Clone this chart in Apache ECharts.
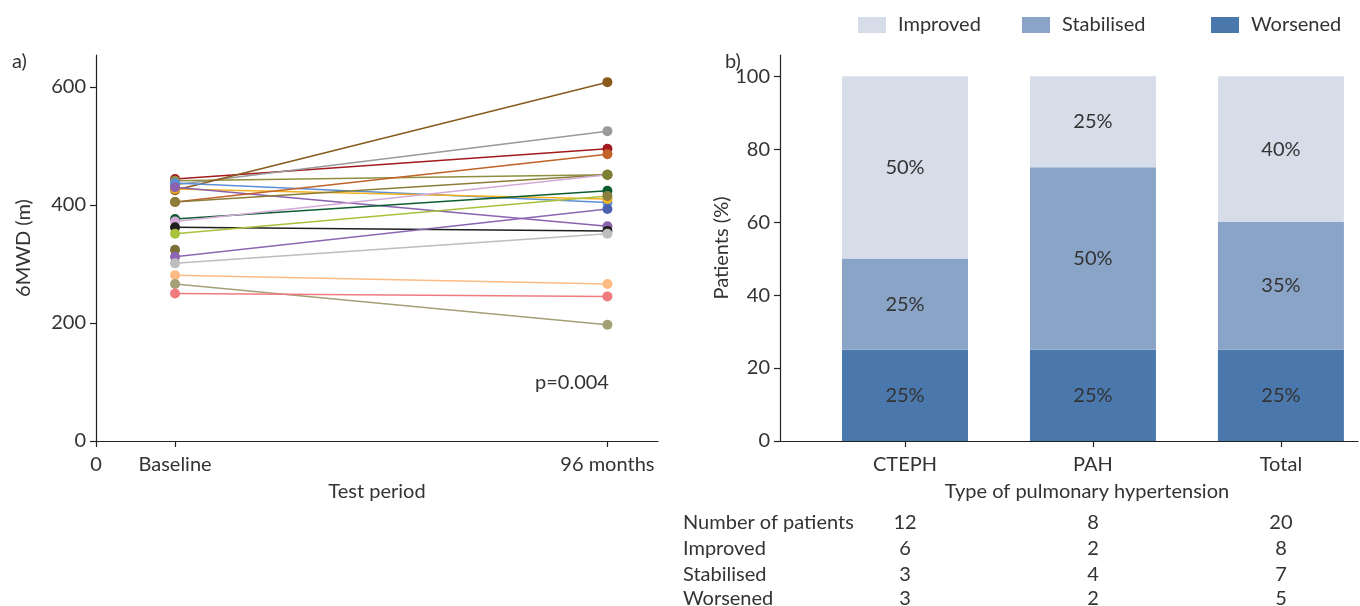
<!DOCTYPE html>
<html>
<head>
<meta charset="utf-8">
<script src="https://cdn.jsdelivr.net/npm/echarts@6/dist/echarts.min.js"></script>
<style>
  html, body { margin: 0; padding: 0; background: #ffffff; }
  #chart { width: 1360px; height: 606px; }
</style>
</head>
<body>
<div id="chart"></div>
<script>
// ---- Panel a: 6MWD per patient, baseline vs 96 months ----
const periodPositions = [0, 1, 6.47];
const periodLabels = ['0', 'Baseline', '96 months'];
const walkTicks = [0, 200, 400, 600];

const baseline6MWD = [444, 434, 441, 425, 437, 427, 430, 405, 405, 376, 372, 362, 351, 324, 312, 301, 281, 266, 250];
const month96_6MWD = [495, 525, 451, 608, 404, 410, 364, 486, 451, 424, 451, 356, 415, null, 393, 351, 266, 197, 245];
const lineColors = ['#a31a1e', '#9a9a9a', '#8e8f3e', '#8a5a1c', '#5b8fd6', '#f2b01e', '#8a62ae', '#c1632a', '#8b7d3a', '#0d5c30',
                    '#d3a9d6', '#1f1f1f', '#a7c23b', '#7b6f36', '#8c66b2', '#bdbdbd', '#fdbb84', '#a39f76', '#f07b7f'];
const endDotColors = ['#a31a1e', '#9a9a9a', '#7d7f33', '#8a5a1c', '#5b8fd6', '#f2b01e', '#8a62ae', '#c1632a', '#7d7f33', '#0d5c30',
                      '#7d7f33', '#1f1f1f', '#8b8040', '#7b6f36', '#4c62b0', '#bdbdbd', '#fdbb84', '#a39f76', '#f07b7f'];

// ---- Panel b: outcome by type of pulmonary hypertension ----
const phTypes = ['CTEPH', 'PAH', 'Total'];
const phPositions = [1, 2, 3];
const outcomeNames = ['Worsened', 'Stabilised', 'Improved'];
const worsenedPct = [25, 25, 25];
const stabilisedPct = [25, 50, 35];
const improvedPct = [50, 25, 40];
const outcomeColors = ['#4a78ac', '#8aa4c8', '#d6dde9'];
const percentTicks = [0, 20, 40, 60, 80, 100];

const tableRows = ['Number of patients', 'Improved', 'Stabilised', 'Worsened'];
const patientsTotal = [12, 8, 20];
const improvedCount = [6, 2, 8];
const stabilisedCount = [3, 4, 7];
const worsenedCount = [3, 2, 5];

const FONT = 'Lato, "Noto Sans", sans-serif';
const FS = 20;
const TXT = '#333333';
const AX = '#222222';

const chart = echarts.init(document.getElementById('chart'), null, { renderer: 'canvas' });

const axisCommon = {
  axisLine: { show: true, lineStyle: { color: AX, width: 1.2 } },
  axisTick: { show: true, length: 6, lineStyle: { color: AX, width: 1.2 } },
  splitLine: { show: false },
  axisLabel: { color: TXT, fontSize: FS, fontFamily: FONT },
  nameTextStyle: { color: TXT, fontSize: FS, fontFamily: FONT }
};

const series = [];
baseline6MWD.forEach((b, i) => {
  const pts = [{ value: [periodPositions[1], b], itemStyle: { color: lineColors[i] } }];
  if (month96_6MWD[i] != null) {
    pts.push({ value: [periodPositions[2], month96_6MWD[i]], itemStyle: { color: endDotColors[i] } });
  }
  series.push({
    type: 'line', xAxisIndex: 0, yAxisIndex: 0, data: pts,
    symbol: 'circle', symbolSize: 10, showSymbol: true,
    lineStyle: { color: lineColors[i], width: 1.5 },
    itemStyle: { color: lineColors[i] },
    silent: true, animation: false
  });
});

// Percent goes in the first column so the stack runs along the y axis
const stacks = [worsenedPct, stabilisedPct, improvedPct];
stacks.forEach((vals, k) => {
  series.push({
    type: 'bar', name: outcomeNames[k], xAxisIndex: 1, yAxisIndex: 1, stack: 'outcome',
    barWidth: 126,
    encode: { x: 1, y: 0 },
    data: vals.map((v, j) => [v, phPositions[j]]),
    itemStyle: { color: outcomeColors[k] },
    label: {
      show: true, position: 'inside', color: TXT, fontSize: FS, fontFamily: FONT,
      formatter: p => p.value[0] + '%'
    },
    silent: true, animation: false
  });
});

const legendCommon = {
  orient: 'horizontal', top: 10, icon: 'rect', itemWidth: 28, itemHeight: 16,
  selectedMode: false,
  textStyle: { color: TXT, fontSize: FS, fontFamily: FONT, padding: [0, 0, 0, 7] }
};

chart.setOption({
  backgroundColor: '#ffffff',
  animation: false,
  textStyle: { fontFamily: FONT },
  legend: [
    Object.assign({ left: 853, data: ['Improved'] }, legendCommon),
    Object.assign({ left: 1017, data: ['Stabilised'] }, legendCommon),
    Object.assign({ left: 1206, data: ['Worsened'] }, legendCommon)
  ],
  grid: [
    { left: 96, top: 55, width: 562, height: 386, containLabel: false },
    { left: 780, top: 55, width: 578, height: 386, containLabel: false }
  ],
  xAxis: [
    Object.assign({}, axisCommon, {
      type: 'value', gridIndex: 0, min: 0, max: 7.11,
      name: 'Test period', nameLocation: 'middle', nameGap: 41,
      axisTick: Object.assign({}, axisCommon.axisTick, { customValues: periodPositions }),
      axisLabel: Object.assign({}, axisCommon.axisLabel, {
        customValues: periodPositions, margin: 14,
        formatter: v => periodLabels[periodPositions.indexOf(v)]
      })
    }),
    Object.assign({}, axisCommon, {
      type: 'value', gridIndex: 1, min: 0.335, max: 3.41,
      name: 'Type of pulmonary hypertension', nameLocation: 'middle', nameGap: 41,
      nameTextStyle: Object.assign({}, axisCommon.nameTextStyle, { padding: [0, 0, 0, 36] }),
      axisTick: Object.assign({}, axisCommon.axisTick, { customValues: phPositions }),
      axisLabel: Object.assign({}, axisCommon.axisLabel, {
        customValues: phPositions, margin: 14,
        formatter: v => phTypes[phPositions.indexOf(v)]
      })
    })
  ],
  yAxis: [
    Object.assign({}, axisCommon, {
      type: 'value', gridIndex: 0, min: 0, max: 654,
      name: '6MWD (m)', nameLocation: 'middle', nameGap: 62, nameRotate: 90,
      axisTick: Object.assign({}, axisCommon.axisTick, { customValues: walkTicks }),
      axisLabel: Object.assign({}, axisCommon.axisLabel, { customValues: walkTicks, margin: 10 })
    }),
    Object.assign({}, axisCommon, {
      type: 'value', gridIndex: 1, min: 0, max: 105.8,
      name: 'Patients (%)', nameLocation: 'middle', nameGap: 36, nameRotate: 90,
      axisTick: Object.assign({}, axisCommon.axisTick, { customValues: percentTicks }),
      axisLabel: Object.assign({}, axisCommon.axisLabel, { customValues: percentTicks, margin: 10 })
    })
  ],
  series: series
});

// Panel labels, p-value and the counts table under panel b
const textStyle = (s) => Object.assign({ fill: TXT, fontSize: FS, fontFamily: FONT }, s);
const graphics = [
  { type: 'text', left: 12, top: 52, style: textStyle({ text: 'a)' }) },
  { type: 'text', left: 725, top: 52, style: textStyle({ text: 'b)' }) },
  { type: 'text', left: 535, top: 373, style: textStyle({ text: 'p=0.004' }) }
];
const tableValues = [patientsTotal, improvedCount, stabilisedCount, worsenedCount];
const rowY = [523, 549, 575, 599];
tableRows.forEach((row, r) => {
  graphics.push({ type: 'text', x: 683, y: rowY[r], style: textStyle({ text: row, verticalAlign: 'middle', align: 'left' }) });
  phPositions.forEach((pos, j) => {
    const px = chart.convertToPixel({ xAxisIndex: 1 }, pos);
    graphics.push({ type: 'text', x: px, y: rowY[r], style: textStyle({ text: String(tableValues[r][j]), verticalAlign: 'middle', align: 'center' }) });
  });
});
chart.setOption({ graphic: graphics });
</script>
</body>
</html>
